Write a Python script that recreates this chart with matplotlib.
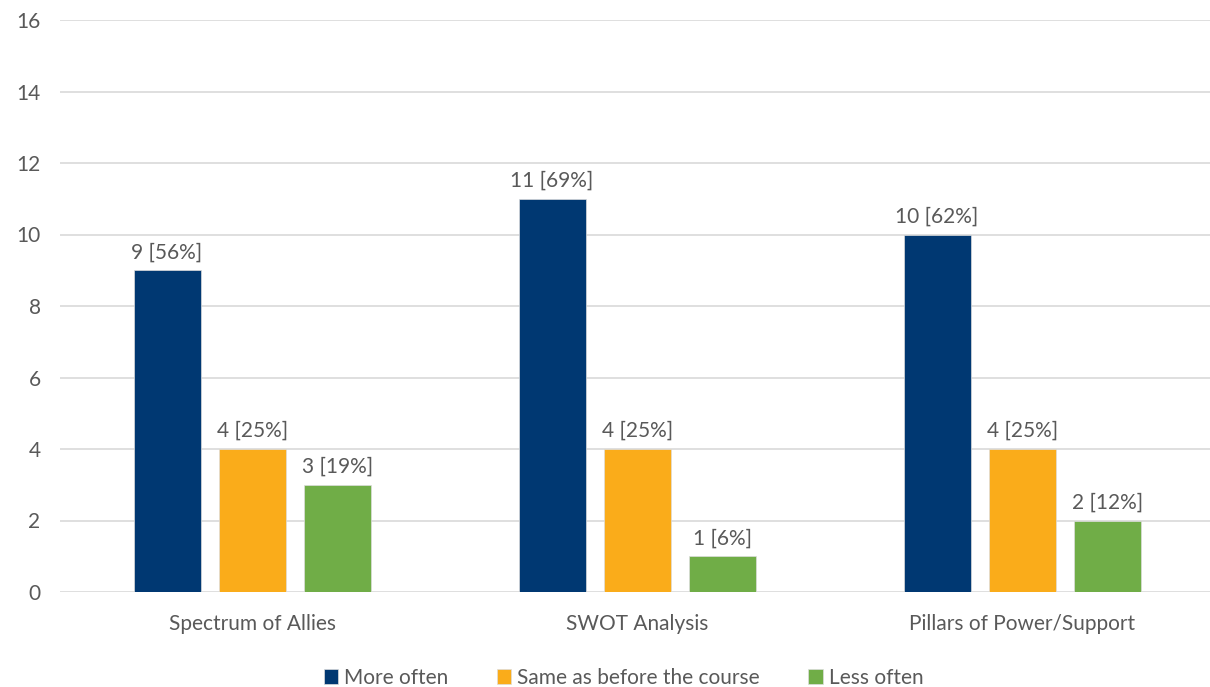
import numpy as np
import matplotlib
matplotlib.use("Agg")
import matplotlib.pyplot as plt

plt.rcParams['font.family'] = ['Lato', 'DejaVu Sans']

categories = ["Spectrum of Allies", "SWOT Analysis", "Pillars of Power/Support"]
series = ["More often", "Same as before the course", "Less often"]
more_often = [9, 11, 10]
same = [4, 4, 4]
less_often = [3, 1, 2]
pct_more = ["56%", "69%", "62%"]
pct_same = ["25%", "25%", "25%"]
pct_less = ["19%", "6%", "12%"]

colors = ["#003872", "#FAAC1A", "#70AD47"]
text_col = "#595959"

fig = plt.figure(figsize=(12.1, 6.87), dpi=100)
ax = fig.add_axes([60/1210, 95/687, 1 - 60/1210, 572/687])

x = np.arange(len(categories))
w = 0.174
pitch = 0.222
data = [more_often, same, less_often]
pcts = [pct_more, pct_same, pct_less]
for i, (vals, p) in enumerate(zip(data, pcts)):
    bars = ax.bar(x + (i - 1) * pitch, vals, width=w, color=colors[i],
                  label=series[i], zorder=3, edgecolor="#dddddd", linewidth=0.5)
    for b, v, pc in zip(bars, vals, p):
        ax.text(b.get_x() + b.get_width() / 2, v + 0.22, f"{v} [{pc}]",
                ha="center", va="bottom", fontsize=15, color=text_col)

ax.set_xlim(-0.5, 2.487)
ax.set_ylim(0, 16)
ax.set_yticks(range(0, 17, 2))
ax.set_xticks(x)
ax.set_xticklabels(categories)
ax.tick_params(axis="both", length=0, labelsize=15, colors=text_col)
ax.tick_params(axis="y", pad=14)
ax.tick_params(axis="x", pad=16)
ax.grid(axis="y", color="#d9d9d9", linewidth=1.2, zorder=0)
for s in ["top", "right", "left", "bottom"]:
    ax.spines[s].set_visible(False)

leg = ax.legend(loc="upper center", bbox_to_anchor=(0.5 - 0.01, -0.1), ncol=3,
                frameon=False, fontsize=15, handlelength=0.7, handleheight=0.7,
                handletextpad=0.3, columnspacing=2.3)
for t in leg.get_texts():
    t.set_color(text_col)

fig.savefig("out.png", dpi=100)
